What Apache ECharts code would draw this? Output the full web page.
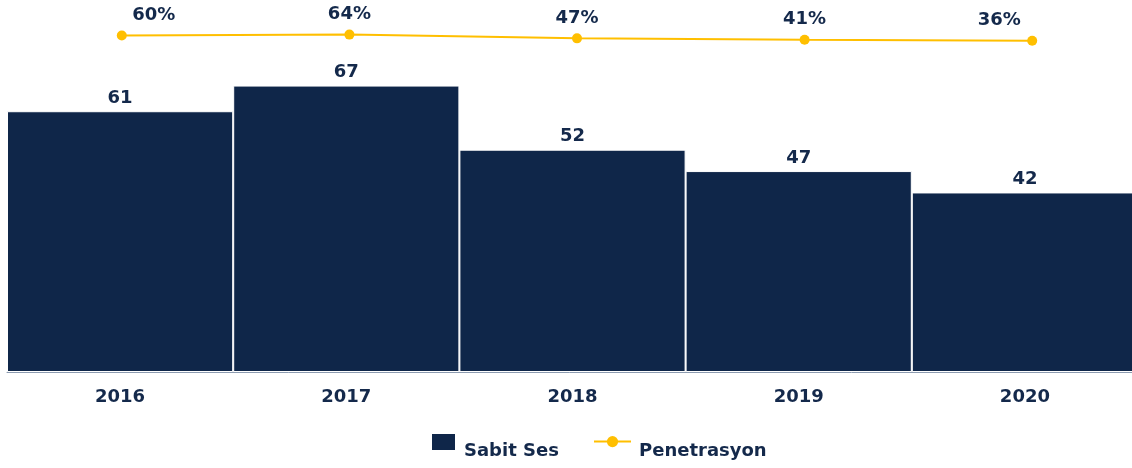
<!DOCTYPE html>
<html>
<head>
<meta charset="utf-8">
<script src="https://cdn.jsdelivr.net/npm/echarts@6/dist/echarts.min.js"></script>
<style>
  html, body { margin: 0; padding: 0; background: #fff; }
  #chart { width: 1132px; height: 468px; }
</style>
</head>
<body>
<div id="chart"></div>
<script>
var years = ['2016', '2017', '2018', '2019', '2020'];
var sabitSes = [61, 67, 52, 47, 42];
var penetrasyon = [60, 64, 47, 41, 36];

var navy = '#0f2649';
var textNavy = '#14294b';
var gold = '#ffbf00';
var font = 'DejaVu Sans';

// first and last % labels are nudged inwards like in the original
var lineLabelOffsets = [[32, 0], [0, 0], [0, 0], [0, 0], [-33, 0]];

var legendText = {
  formatter: '{t|{name}}',
  textStyle: {
    rich: {
      t: { color: textNavy, fontSize: 18, fontWeight: 'bold', fontFamily: font, padding: [19, 0, 0, 3] }
    }
  }
};

var myChart = echarts.init(document.getElementById('chart'));

var option = {
  animation: false,
  textStyle: { fontFamily: font },
  grid: [
    { left: 7, width: 1131, top: 30, bottom: 96, outerBoundsMode: 'none', containLabel: false },
    { left: 8, width: 1138, top: 30, bottom: 96, outerBoundsMode: 'none', containLabel: false }
  ],
  legend: [
    {
      data: ['Sabit Ses'],
      left: 430,
      top: 432,
      padding: 0,
      itemWidth: 25,
      itemHeight: 18,
      icon: 'rect',
      formatter: legendText.formatter,
      textStyle: legendText.textStyle
    },
    {
      data: ['Penetrasyon'],
      left: 593,
      top: 436,
      padding: 0,
      itemWidth: 37,
      itemHeight: 14,
      formatter: legendText.formatter,
      textStyle: legendText.textStyle
    }
  ],
  xAxis: [
    {
      type: 'category',
      gridIndex: 0,
      data: years,
      axisTick: { show: false },
      axisLine: { lineStyle: { color: '#8c9bb0', width: 1 } },
      axisLabel: { color: textNavy, fontSize: 18, fontWeight: 'bold', fontFamily: font, margin: 16 }
    },
    {
      type: 'category',
      gridIndex: 1,
      data: years,
      show: false
    }
  ],
  yAxis: [
    { type: 'value', gridIndex: 0, min: 0, max: 80, show: false },
    { type: 'value', gridIndex: 1, min: -1470, max: 85, show: false }
  ],
  series: [
    {
      name: 'Sabit Ses',
      type: 'bar',
      xAxisIndex: 0,
      yAxisIndex: 0,
      barCategoryGap: '0%',
      data: sabitSes,
      itemStyle: { color: navy, borderColor: '#ffffff', borderWidth: 1 },
      label: {
        show: true,
        position: 'top',
        distance: 4,
        color: textNavy,
        fontSize: 18,
        fontWeight: 'bold',
        fontFamily: font
      }
    },
    {
      name: 'Penetrasyon',
      type: 'line',
      xAxisIndex: 1,
      yAxisIndex: 1,
      data: penetrasyon.map(function (v, i) {
        return { value: v, label: { offset: lineLabelOffsets[i] } };
      }),
      symbol: 'circle',
      symbolSize: 10,
      lineStyle: { color: gold, width: 2 },
      itemStyle: { color: gold },
      label: {
        show: true,
        position: 'top',
        distance: 6,
        formatter: '{c}%',
        color: textNavy,
        fontSize: 18,
        fontWeight: 'bold',
        fontFamily: font
      }
    }
  ]
};

myChart.setOption(option);
</script>
</body>
</html>
